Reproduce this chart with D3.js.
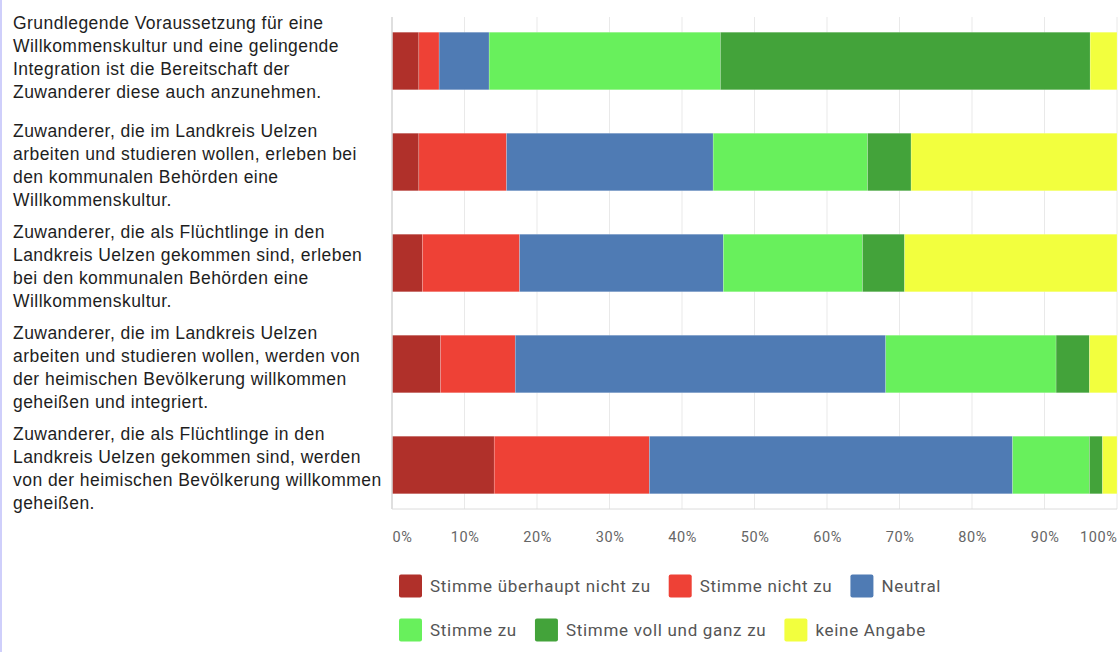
<!DOCTYPE html>
<html>
<head>
<meta charset="utf-8">
<script src="https://cdn.jsdelivr.net/npm/d3@7"></script>
<style>
  html, body { margin: 0; padding: 0; background: #fff; }
  #viz { width: 1120px; height: 652px; position: relative; }
</style>
</head>
<body>
<div id="viz"></div>
<script>
//Datos
const categories = [
    ['Grundlegende Voraussetzung für eine', 'Willkommenskultur und eine gelingende', 'Integration ist die Bereitschaft der', 'Zuwanderer diese auch anzunehmen.'],
    ['Zuwanderer, die im Landkreis Uelzen', 'arbeiten und studieren wollen, erleben bei', 'den kommunalen Behörden eine', 'Willkommenskultur.'],
    ['Zuwanderer, die als Flüchtlinge in den', 'Landkreis Uelzen gekommen sind, erleben', 'bei den kommunalen Behörden eine', 'Willkommenskultur.'],
    ['Zuwanderer, die im Landkreis Uelzen', 'arbeiten und studieren wollen, werden von', 'der heimischen Bevölkerung willkommen', 'geheißen und integriert.'],
    ['Zuwanderer, die als Flüchtlinge in den', 'Landkreis Uelzen gekommen sind, werden', 'von der heimischen Bevölkerung willkommen', 'geheißen.']
];

const seriesNames = ['Stimme überhaupt nicht zu', 'Stimme nicht zu', 'Neutral', 'Stimme zu', 'Stimme voll und ganz zu', 'keine Angabe'];

const ueberhauptNicht = [3.7, 3.7, 4.2, 6.7, 14.1];
const nichtZu        = [2.8, 12.1, 13.4, 10.3, 21.4];
const neutral        = [6.9, 28.5, 28.1, 51.1, 50.1];
const stimmeZu       = [31.9, 21.3, 19.2, 23.5, 10.6];
const vollUndGanz    = [51.0, 6.0, 5.8, 4.6, 1.8];
const keineAngabe    = [3.7, 28.4, 29.3, 3.8, 2.0];

const tickValues = [0, 10, 20, 30, 40, 50, 60, 70, 80, 90, 100];

//Colores fijos
const COLORS = ['#B0302A', '#EE4136', '#4F7BB4', '#68F05C', '#43A33A', '#F2FF3E'];

const seriesValues = [ueberhauptNicht, nichtZu, neutral, stimmeZu, vollUndGanz, keineAngabe];

let rows = categories.map(function(c, i) {
    let r = { idx: i };
    seriesNames.forEach(function(s, j) { r[s] = seriesValues[j][i]; });
    return r;
});

let width = 1120, height = 652;
let plot = { left: 392, right: 1117, top: 17, bottom: 509 };

let svg = d3.select('#viz')
    .append('svg')
        .attr('width', width)
        .attr('height', height);

// borde izquierdo
svg.append('rect')
    .attr('x', 0).attr('y', 0)
    .attr('width', 2).attr('height', height)
    .attr('fill', '#cfcffb');

let x = d3.scaleLinear()
    .domain([0, 100])
    .range([plot.left, plot.right]);

let y = d3.scaleBand()
    .domain(d3.range(categories.length))
    .range([10.5, 515.5])
    .paddingInner(0.43)
    .paddingOuter(0.215);

// Gridlines
svg.append('g')
    .selectAll('line')
    .data(tickValues.slice(1))
    .enter()
    .append('line')
        .attr('x1', function(d) { return x(d); })
        .attr('x2', function(d) { return x(d); })
        .attr('y1', plot.top)
        .attr('y2', plot.bottom)
        .attr('stroke', '#e9e9e9')
        .attr('stroke-width', 1);

// Bars
let stacked = d3.stack().keys(seriesNames)(rows);

svg.append('g')
    .selectAll('g')
    .data(stacked)
    .enter()
    .append('g')
        .attr('fill', function(d, i) { return COLORS[i]; })
    .selectAll('rect')
    .data(function(d) { return d; })
    .enter()
    .append('rect')
        .attr('x', function(d) { return x(d[0]); })
        .attr('width', function(d) { return x(d[1]) - x(d[0]); })
        .attr('y', function(d) { return y(d.data.idx); })
        .attr('height', y.bandwidth())
        .attr('stroke', '#ffffff')
        .attr('stroke-opacity', 0.3)
        .attr('stroke-width', 0.6);

// Ejes
svg.append('line')
    .attr('x1', plot.left).attr('x2', plot.left)
    .attr('y1', plot.top).attr('y2', plot.bottom)
    .attr('stroke', '#d4d4d4').attr('stroke-width', 1.5);

svg.append('line')
    .attr('x1', plot.left).attr('x2', plot.right)
    .attr('y1', plot.bottom).attr('y2', plot.bottom)
    .attr('stroke', '#dcdcdc').attr('stroke-width', 1);

let xAxis = svg.append('g')
    .attr('transform', 'translate(0,' + (plot.bottom + 28) + ')')
    .call(d3.axisBottom(x).tickValues(tickValues).tickSize(0).tickFormat(function(d) { return d + '%'; }));

xAxis.select('.domain').remove();
xAxis.selectAll('text')
    .attr('y', 0)
    .attr('dy', '0.35em')
    .style('font-family', 'Roboto, sans-serif')
    .style('font-size', '14.5px')
    .style('letter-spacing', '0.6px')
    .attr('fill', '#666')
    .attr('text-anchor', function(d) { return d == 0 ? 'start' : (d == 100 ? 'end' : 'middle'); });

// Etiquetas de categoría
let lineHeight = 23;
let labels = svg.append('g')
    .selectAll('text')
    .data(categories)
    .enter()
    .append('text')
        .attr('x', 13)
        .attr('y', function(d, i) {
            let c = y(i) + y.bandwidth() / 2;
            let shift = i == 0 ? -4 : 3;
            return c - (d.length - 1) * lineHeight / 2 + shift;
        })
        .style('font-family', '"Liberation Sans", Arial, sans-serif')
        .style('font-size', '17.5px')
        .style('letter-spacing', '0.45px')
        .attr('fill', '#1e1e1e');

labels.selectAll('tspan')
    .data(function(d) { return d; })
    .enter()
    .append('tspan')
        .attr('x', 13)
        .attr('dy', function(d, i) { return i == 0 ? '0.35em' : lineHeight; })
        .text(function(d) { return d; });

// Leyenda
let legendRows = [[0, 1, 2], [3, 4, 5]];
let legendY = [586, 630];

legendRows.forEach(function(row, r) {
    let cx = 399;
    row.forEach(function(si) {
        let g = svg.append('g').attr('transform', 'translate(' + cx + ',' + legendY[r] + ')');
        g.append('rect')
            .attr('x', 0).attr('y', -11.5)
            .attr('width', 23).attr('height', 23)
            .attr('rx', 2)
            .attr('fill', COLORS[si]);
        let t = g.append('text')
            .attr('x', 31)
            .attr('y', 0)
            .attr('dy', '0.35em')
            .style('font-family', 'Roboto, sans-serif')
            .style('font-size', '17px')
            .style('letter-spacing', '0.7px')
            .attr('fill', '#555')
            .text(seriesNames[si]);
        cx += 31 + t.node().getComputedTextLength() + 18;
    });
});
</script>
</body>
</html>
